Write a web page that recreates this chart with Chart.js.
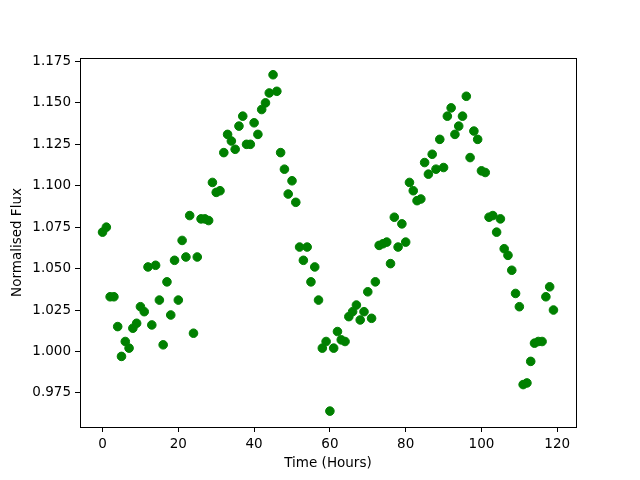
<!DOCTYPE html>
<html>
<head>
<meta charset="utf-8">
<script src="https://cdn.jsdelivr.net/npm/chart.js@4/dist/chart.umd.min.js"></script>
<style>
  body { margin: 0; background: #fff; }
  #wrap { width: 640px; height: 480px; }
</style>
</head>
<body>
<div id="wrap"><canvas id="chart" width="640" height="480"></canvas></div>
<script>
const hours = [
  0, 1, 2, 3, 4, 5, 6, 7, 8, 9, 10, 11, 12, 13, 14, 15, 16, 17, 18, 19,
  20, 21, 22, 23, 24, 25, 26, 27, 28, 29, 30, 31, 32, 33, 34, 35, 36, 37, 38, 39,
  40, 41, 42, 43, 44, 45, 46, 47, 48, 49, 50, 51, 52, 53, 54, 55, 56, 57, 58, 59,
  60, 61, 62, 63, 64, 65, 66, 67, 68, 69, 70, 71, 72, 73, 74, 75, 76, 77, 78, 79,
  80, 81, 82, 83, 84, 85, 86, 87, 88, 89, 90, 91, 92, 93, 94, 95, 96, 97, 98, 99,
  100, 101, 102, 103, 104, 105, 106, 107, 108, 109, 110, 111, 112, 113, 114, 115, 116, 117, 118, 119
];
const flux = [
  1.072, 1.075, 1.033, 1.033, 1.015, 0.997, 1.006, 1.002, 1.014, 1.017,
  1.027, 1.024, 1.051, 1.016, 1.052, 1.031, 1.004, 1.042, 1.022, 1.055,
  1.031, 1.067, 1.057, 1.082, 1.011, 1.057, 1.080, 1.080, 1.079, 1.102,
  1.096, 1.097, 1.120, 1.131, 1.127, 1.122, 1.136, 1.142, 1.125, 1.125,
  1.138, 1.131, 1.146, 1.150, 1.156, 1.167, 1.157, 1.120, 1.110, 1.095,
  1.103, 1.090, 1.063, 1.055, 1.063, 1.042, 1.051, 1.031, 1.002, 1.006,
  0.964, 1.002, 1.012, 1.007, 1.006, 1.021, 1.024, 1.028, 1.019, 1.024,
  1.036, 1.020, 1.042, 1.064, 1.065, 1.066, 1.053, 1.081, 1.063, 1.077,
  1.066, 1.102, 1.097, 1.091, 1.092, 1.114, 1.107, 1.119, 1.110, 1.128,
  1.111, 1.142, 1.147, 1.131, 1.136, 1.142, 1.154, 1.117, 1.133, 1.128,
  1.109, 1.108, 1.081, 1.082, 1.072, 1.080, 1.062, 1.058, 1.049, 1.035,
  1.027, 0.980, 0.981, 0.994, 1.005, 1.006, 1.006, 1.033, 1.039, 1.025
];
const xTicks = [0, 20, 40, 60, 80, 100, 120];
const yTicks = [0.975, 1.000, 1.025, 1.050, 1.075, 1.100, 1.125, 1.150, 1.175];

const font = { family: 'DejaVu Sans', size: 13.5 };

// full box round the plot, like matplotlib's spines
const frame = {
  id: 'frame',
  afterDraw(chart) {
    const { ctx, chartArea: a } = chart;
    ctx.save();
    ctx.strokeStyle = '#000';
    ctx.lineWidth = 1;
    ctx.strokeRect(Math.round(a.left) + 0.5, Math.round(a.top) + 0.5,
      Math.round(a.right - a.left), Math.round(a.bottom - a.top));
    ctx.restore();
  }
};

new Chart(document.getElementById('chart'), {
  type: 'scatter',
  data: {
    datasets: [{
      label: 'flux',
      data: hours.map((h, i) => ({ x: h, y: flux[i] })),
      backgroundColor: '#008000',
      borderColor: '#008000',
      borderWidth: 1,
      pointRadius: 4.3,
      pointHoverRadius: 4.3
    }]
  },
  options: {
    responsive: false,
    animation: false,
    devicePixelRatio: 1,
    layout: { padding: { left: 0, top: 58, right: 64, bottom: 0 } },
    plugins: { legend: { display: false }, tooltip: { enabled: false } },
    scales: {
      x: {
        type: 'linear',
        min: -5.95,
        max: 124.95,
        afterBuildTicks: s => { s.ticks = xTicks.map(v => ({ value: v })); },
        afterFit: s => { s.height = 53; },
        grid: { display: true, drawOnChartArea: false, drawTicks: true, tickLength: 5, color: '#000' },
        border: { display: true, color: '#000' },
        ticks: { color: '#000', font: font, padding: 4, maxRotation: 0 },
        title: { display: true, text: 'Time (Hours)', color: '#000', font: font, padding: { top: 4, bottom: 8 } }
      },
      y: {
        type: 'linear',
        min: 0.9544,
        max: 1.1771,
        afterBuildTicks: s => { s.ticks = yTicks.map(v => ({ value: v })); },
        afterFit: s => { s.width = 80; },
        grid: { display: true, drawOnChartArea: false, drawTicks: true, tickLength: 5, color: '#000' },
        border: { display: true, color: '#000' },
        ticks: { color: '#000', font: font, padding: 4, callback: v => v.toFixed(3) },
        title: { display: true, text: 'Normalised Flux', color: '#000', font: font, padding: { top: 9, bottom: 4 } }
      }
    }
  },
  plugins: [frame]
});
</script>
</body>
</html>
